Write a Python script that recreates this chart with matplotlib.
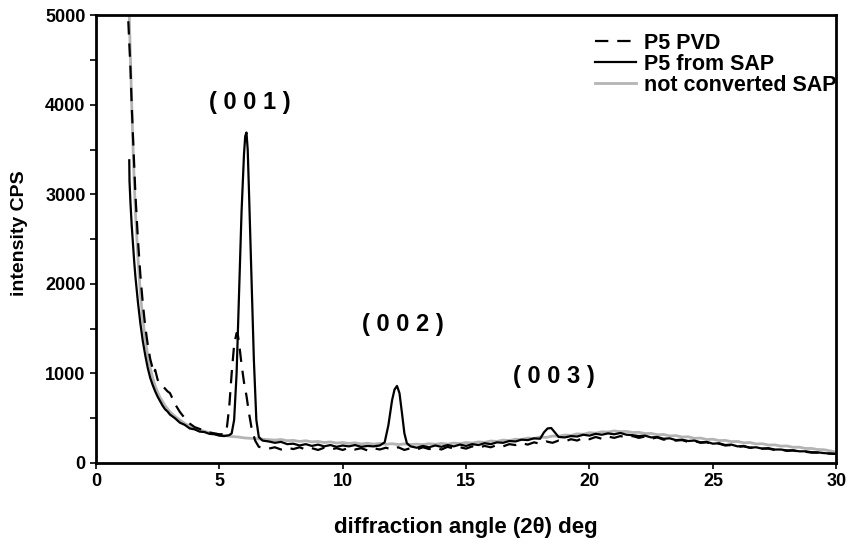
import numpy as np
import matplotlib.pyplot as plt

plt.rcParams['font.family'] = ['Liberation Sans', 'DejaVu Sans']
plt.rcParams['font.weight'] = 'bold'

# P5 from SAP (solid)
x_sap = [1.35, 1.36, 1.4, 1.45, 1.5, 1.55, 1.6, 1.7, 1.8, 1.9, 2.0, 2.1, 2.2, 2.3, 2.4, 2.5,
         2.6, 2.7, 2.8, 2.9, 3.0, 3.2, 3.4, 3.6, 3.8, 4.0, 4.2, 4.4, 4.6, 4.8, 5.0, 5.2,
         5.4, 5.5, 5.6, 5.7, 5.8, 5.9, 6.0, 6.05, 6.1, 6.15, 6.2, 6.3, 6.4, 6.5, 6.6, 6.75,
         7.0, 7.25, 7.5, 7.75, 8.0, 8.25, 8.5, 8.75, 9.0, 9.25, 9.5, 9.75, 10.0, 10.25, 10.5,
         10.75, 11.0, 11.25, 11.5, 11.7, 11.85, 12.0, 12.1, 12.2, 12.3, 12.4, 12.5, 12.6,
         12.75, 13.0, 13.25, 13.5, 13.75, 14.0, 14.25, 14.5, 14.75, 15.0, 15.25, 15.5, 15.75,
         16.0, 16.25, 16.5, 16.75, 17.0, 17.25, 17.5, 17.75, 18.0, 18.15, 18.3, 18.45, 18.6,
         18.75, 19.0, 19.25, 19.5, 19.75, 20.0, 20.25, 20.5, 20.75, 21.0, 21.25, 21.5, 21.75,
         22.0, 22.25, 22.5, 22.75, 23.0, 23.25, 23.5, 23.75, 24.0, 24.25, 24.5, 24.75, 25.0,
         25.25, 25.5, 25.75, 26.0, 26.25, 26.5, 26.75, 27.0, 27.25, 27.5, 27.75, 28.0, 28.25,
         28.5, 28.75, 29.0, 29.25, 29.5, 29.75, 30.0]
y_sap = [3380, 3150, 2900, 2650, 2450, 2250, 2080, 1800, 1560, 1360, 1200, 1060, 950, 870, 800, 740,
         690, 640, 600, 575, 540, 500, 450, 425, 385, 375, 350, 345, 325, 320, 305, 300,
         310, 330, 480, 1000, 1900, 2800, 3450, 3650, 3690, 3500, 3050, 2100, 1150, 480, 290, 250,
         240, 225, 235, 210, 215, 195, 210, 190, 205, 185, 200, 180, 195, 185, 200,
         180, 190, 185, 195, 230, 420, 700, 820, 860, 780, 560, 330, 220,
         185, 170, 190, 175, 195, 180, 200, 185, 205, 190, 210, 200, 220,
         210, 230, 225, 245, 240, 260, 255, 275, 270, 340, 385, 390, 340,
         290, 285, 300, 295, 315, 305, 325, 315, 330, 320, 335, 315, 310,
         300, 305, 285, 290, 270, 275, 255, 260, 245, 250, 230, 235, 215,
         220, 200, 205, 185, 190, 170, 175, 160, 165, 150, 150, 140, 140,
         130, 130, 120, 118, 110, 105, 100]

# P5 PVD (dashed)
x_pvd = [1.28, 1.3, 1.35, 1.4, 1.45, 1.5, 1.6, 1.7, 1.8, 1.9, 2.0, 2.1, 2.2, 2.3, 2.35, 2.4,
         2.5, 2.6, 2.7, 2.8, 2.9, 3.0, 3.1, 3.2, 3.4, 3.6, 3.8, 4.0, 4.2, 4.4, 4.6, 4.8, 5.0,
         5.2, 5.3, 5.4, 5.5, 5.6, 5.7, 5.75, 5.8, 5.9, 6.0, 6.1, 6.2, 6.3, 6.45, 6.6, 6.75,
         7.0, 7.25, 7.5, 7.75, 8.0, 8.25, 8.5, 8.75, 9.0, 9.25, 9.5, 9.75, 10.0, 10.25, 10.5,
         10.75, 11.0, 11.25, 11.5, 11.75, 12.0, 12.25, 12.5, 12.75, 13.0, 13.25, 13.5, 13.75,
         14.0, 14.25, 14.5, 14.75, 15.0, 15.25, 15.5, 15.75, 16.0, 16.25, 16.5, 16.75, 17.0,
         17.25, 17.5, 17.75, 18.0, 18.25, 18.5, 18.75, 19.0, 19.25, 19.5, 19.75, 20.0, 20.25,
         20.5, 20.75, 21.0, 21.25, 21.5, 21.75, 22.0, 22.25, 22.5, 22.75, 23.0, 23.25, 23.5,
         23.75, 24.0, 24.25, 24.5, 24.75, 25.0, 25.25, 25.5, 25.75, 26.0, 26.25, 26.5, 26.75,
         27.0, 27.25, 27.5, 27.75, 28.0, 28.25, 28.5, 28.75, 29.0, 29.25, 29.5, 29.75, 30.0]
y_pvd = [5200, 5000, 4700, 4400, 4000, 3650, 3000, 2500, 2100, 1780, 1520, 1320, 1160, 1050, 1000, 1040,
         930, 880, 860, 830, 800, 780, 720, 660, 570, 500, 440, 400, 380, 360, 340, 330, 320,
         320, 380, 620, 1000, 1320, 1450, 1430, 1340, 1100, 900, 750, 560, 400, 250, 180, 170,
         160, 175, 150, 170, 155, 175, 150, 165, 145, 170, 150, 165, 145, 170, 150,
         165, 140, 165, 150, 170, 150, 175, 145, 165, 150, 175, 155, 170,
         150, 180, 160, 175, 160, 185, 170, 190, 175, 200, 185, 210, 200,
         220, 205, 230, 215, 240, 225, 250, 240, 265, 250, 280, 265, 290,
         270, 295, 280, 300, 285, 300, 280, 295, 270, 285, 260, 270, 250,
         255, 235, 245, 225, 230, 210, 215, 195, 200, 180, 185, 170, 170,
         160, 160, 145, 150, 135, 140, 125, 125, 115, 115, 105, 105, 100]

# not converted SAP (grey)
x_raw = [1.33, 1.35, 1.4, 1.45, 1.5, 1.55, 1.6, 1.7, 1.8, 1.9, 2.0, 2.1, 2.2, 2.3, 2.4, 2.5,
         2.6, 2.8, 3.0, 3.2, 3.4, 3.6, 3.8, 4.0, 4.25, 4.5, 4.75, 5.0, 5.25, 5.5, 5.75, 6.0,
         6.25, 6.5, 6.75, 7.0, 7.25, 7.5, 7.75, 8.0, 8.25, 8.5, 8.75, 9.0, 9.25, 9.5, 9.75,
         10.0, 10.25, 10.5, 10.75, 11.0, 11.25, 11.5, 11.75, 12.0, 12.25, 12.5, 12.75, 13.0,
         13.25, 13.5, 13.75, 14.0, 14.25, 14.5, 14.75, 15.0, 15.25, 15.5, 15.75, 16.0, 16.25,
         16.5, 16.75, 17.0, 17.25, 17.5, 17.75, 18.0, 18.25, 18.5, 18.75, 19.0, 19.25, 19.5,
         19.75, 20.0, 20.25, 20.5, 20.75, 21.0, 21.25, 21.5, 21.75, 22.0, 22.25, 22.5, 22.75,
         23.0, 23.25, 23.5, 23.75, 24.0, 24.25, 24.5, 24.75, 25.0, 25.25, 25.5, 25.75, 26.0,
         26.25, 26.5, 26.75, 27.0, 27.25, 27.5, 27.75, 28.0, 28.25, 28.5, 28.75, 29.0, 29.25,
         29.5, 29.75, 30.0]
y_raw = [5200, 5000, 4500, 4000, 3550, 3150, 2800, 2300, 1900, 1600, 1380, 1200, 1060, 950, 860, 790,
         730, 640, 570, 520, 480, 440, 410, 385, 365, 345, 330, 315, 305, 295, 290, 280,
         275, 270, 265, 260, 255, 262, 248, 252, 240, 248, 235, 240, 228, 235, 222,
         228, 218, 225, 212, 220, 210, 218, 208, 215, 205, 212, 205, 210,
         205, 215, 208, 218, 210, 222, 215, 228, 222, 235, 230, 245, 240,
         255, 250, 265, 262, 278, 272, 290, 285, 300, 298, 312, 308, 325,
         320, 338, 332, 348, 345, 358, 350, 352, 340, 342, 328, 330, 315,
         318, 302, 305, 290, 292, 275, 278, 262, 265, 250, 252, 238, 240,
         225, 228, 212, 215, 200, 202, 188, 190, 175, 176, 162, 162, 150,
         148, 135, 120]

fig, ax = plt.subplots(figsize=(8.49, 5.44), dpi=100)
fig.subplots_adjust(left=0.113, right=0.985, bottom=0.149, top=0.972)

ax.plot(x_raw, y_raw, color='#b4b4b4', lw=2.0, label='not converted SAP')
ax.plot(x_pvd, y_pvd, color='black', lw=1.6, dashes=(6, 4), label='P5 PVD')
ax.plot(x_sap, y_sap, color='black', lw=1.6, label='P5 from SAP')

ax.set_xlim(0, 30)
ax.set_ylim(0, 5000)
ax.set_xticks(np.arange(0, 31, 5))
ax.set_yticks(np.arange(0, 5001, 1000))
ax.set_yticks(np.arange(0, 5001, 500), minor=True)
ax.tick_params(labelsize=13, width=1.2, length=4)
ax.tick_params(which='minor', width=1.2, length=4)
for lab in ax.get_xticklabels() + ax.get_yticklabels():
    lab.set_fontweight('bold')
for s in ax.spines.values():
    s.set_linewidth(2)

fig.text(466 / 849, 1 - 527 / 544, 'diffraction angle (2θ) deg', fontsize=16,
         fontweight='bold', ha='center', va='center')
fig.text(20 / 849, 1 - 233 / 544, 'intensity CPS', fontsize=14, fontweight='bold',
         rotation=90, ha='center', va='center')

ax.text(6.24, 4030, '( 0 0 1 )', fontsize=17, fontweight='bold', ha='center', va='center')
ax.text(12.45, 1550, '( 0 0 2 )', fontsize=17, fontweight='bold', ha='center', va='center')
ax.text(18.57, 970, '( 0 0 3 )', fontsize=17, fontweight='bold', ha='center', va='center')

h, l = ax.get_legend_handles_labels()
order = [1, 2, 0]
ax.legend([h[i] for i in order], [l[i] for i in order], loc='upper right',
          frameon=False, prop={'weight': 'bold', 'size': 15.5},
          handlelength=1.9, handletextpad=0.4, labelspacing=0.0,
          borderaxespad=0.2, bbox_to_anchor=(1.018, 0.99))

fig.savefig('out.png', dpi=100)
